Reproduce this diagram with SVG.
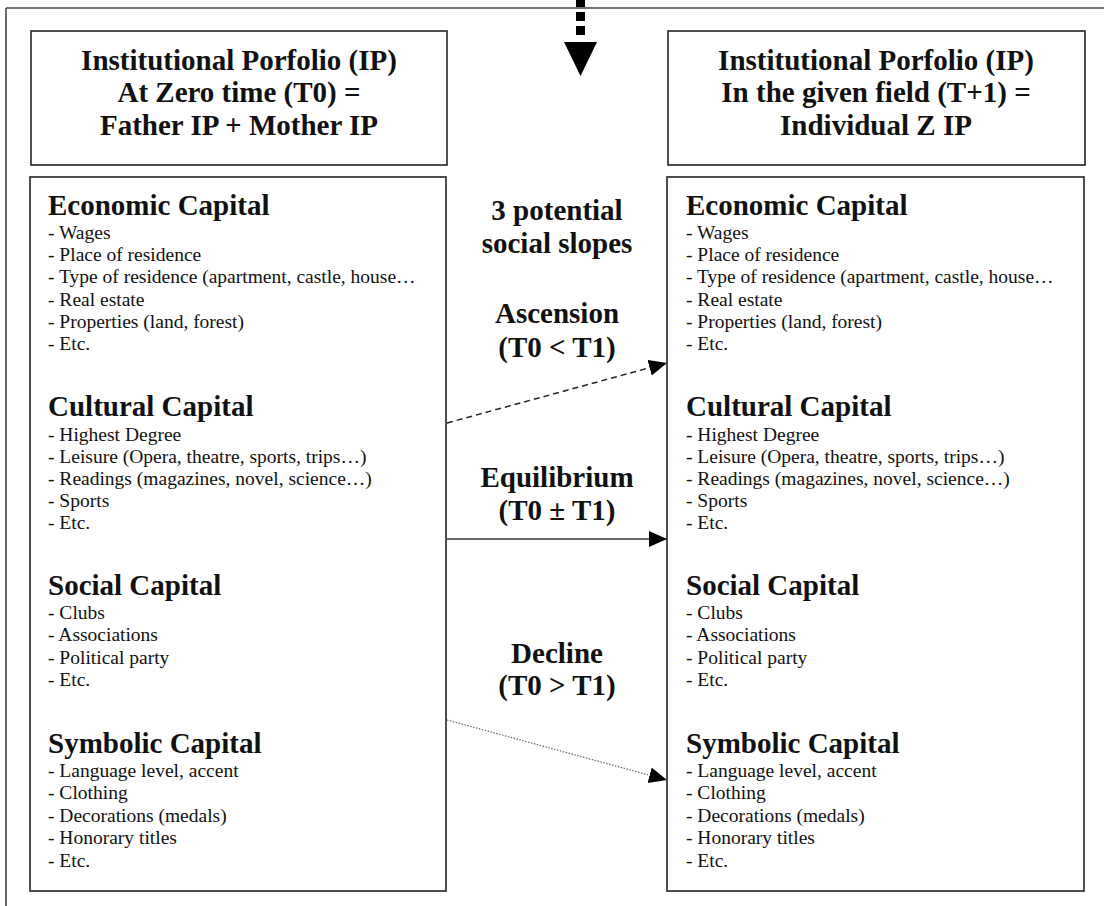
<svg xmlns="http://www.w3.org/2000/svg" width="1104" height="906" viewBox="0 0 1104 906">
<style>
.box{fill:#fff;stroke:#222;stroke-width:1.6}
.frame{fill:none;stroke:#444;stroke-width:1.6}
.hd{font-family:"Liberation Serif","Times New Roman",serif;font-weight:bold;font-size:29px;fill:#111}
.it{font-family:"Liberation Serif","Times New Roman",serif;font-size:19.5px;fill:#111}
.mid{font-family:"Liberation Serif","Times New Roman",serif;font-weight:bold;font-size:29px;fill:#111;text-anchor:middle}
.ttl{font-family:"Liberation Serif","Times New Roman",serif;font-weight:bold;font-size:29px;fill:#111;text-anchor:middle}
</style>
<defs>
<marker id="ah" markerUnits="userSpaceOnUse" markerWidth="20" markerHeight="18" refX="18" refY="8" orient="auto">
<path d="M0,0 L18,8 L0,16 z" fill="#000"/>
</marker>
</defs>
<rect width="1104" height="906" fill="#fff"/>
<g id="frame">
<path class="frame" d="M6,8 H1104 M6,8 V906"/>
</g>
<g id="connectors">
<path d="M580.5,-2 V40" stroke="#000" stroke-width="9" stroke-dasharray="9,5" fill="none"/>
<path d="M564,42 L597,42 L580.5,76 z" fill="#000"/>
<line x1="447" y1="423" x2="667" y2="363" stroke="#222" stroke-width="1.5" stroke-dasharray="6,4" marker-end="url(#ah)"/>
<line x1="447" y1="539" x2="667" y2="539" stroke="#333" stroke-width="1.6" marker-end="url(#ah)"/>
<line x1="447" y1="720" x2="667" y2="780" stroke="#666" stroke-width="1.2" stroke-dasharray="1.5,1.5" marker-end="url(#ah)"/>
</g>
<g id="header-left">
<rect class="box" x="31" y="31" width="416" height="134"/>
<text class="ttl" x="239" y="70">Institutional Porfolio (IP)</text>
<text class="ttl" x="239" y="102">At Zero time (T0) =</text>
<text class="ttl" x="239" y="135">Father IP + Mother IP</text>
</g>
<g id="header-right">
<rect class="box" x="668" y="31" width="417" height="134"/>
<text class="ttl" x="876" y="70">Institutional Porfolio (IP)</text>
<text class="ttl" x="876" y="102">In the given field (T+1) =</text>
<text class="ttl" x="876" y="135">Individual Z IP</text>
</g>
<g id="portfolio-left">
<rect class="box" x="30" y="177" width="416" height="714"/>
<text class="hd" x="48" y="215">Economic Capital</text>
<text class="it" x="48" y="239">- Wages</text>
<text class="it" x="48" y="261">- Place of residence</text>
<text class="it" x="48" y="283">- Type of residence (apartment, castle, house…</text>
<text class="it" x="48" y="306">- Real estate</text>
<text class="it" x="48" y="328">- Properties (land, forest)</text>
<text class="it" x="48" y="350">- Etc.</text>
<text class="hd" x="48" y="416">Cultural Capital</text>
<text class="it" x="48" y="441">- Highest Degree</text>
<text class="it" x="48" y="463">- Leisure (Opera, theatre, sports, trips…)</text>
<text class="it" x="48" y="485">- Readings (magazines, novel, science…)</text>
<text class="it" x="48" y="507">- Sports</text>
<text class="it" x="48" y="529">- Etc.</text>
<text class="hd" x="48" y="595">Social Capital</text>
<text class="it" x="48" y="619">- Clubs</text>
<text class="it" x="48" y="641">- Associations</text>
<text class="it" x="48" y="664">- Political party</text>
<text class="it" x="48" y="686">- Etc.</text>
<text class="hd" x="48" y="753">Symbolic Capital</text>
<text class="it" x="48" y="777">- Language level, accent</text>
<text class="it" x="48" y="799">- Clothing</text>
<text class="it" x="48" y="822">- Decorations (medals)</text>
<text class="it" x="48" y="844">- Honorary titles</text>
<text class="it" x="48" y="867">- Etc.</text>
</g>
<g id="portfolio-right">
<rect class="box" x="667" y="177" width="417" height="714"/>
<text class="hd" x="686" y="215">Economic Capital</text>
<text class="it" x="686" y="239">- Wages</text>
<text class="it" x="686" y="261">- Place of residence</text>
<text class="it" x="686" y="283">- Type of residence (apartment, castle, house…</text>
<text class="it" x="686" y="306">- Real estate</text>
<text class="it" x="686" y="328">- Properties (land, forest)</text>
<text class="it" x="686" y="350">- Etc.</text>
<text class="hd" x="686" y="416">Cultural Capital</text>
<text class="it" x="686" y="441">- Highest Degree</text>
<text class="it" x="686" y="463">- Leisure (Opera, theatre, sports, trips…)</text>
<text class="it" x="686" y="485">- Readings (magazines, novel, science…)</text>
<text class="it" x="686" y="507">- Sports</text>
<text class="it" x="686" y="529">- Etc.</text>
<text class="hd" x="686" y="595">Social Capital</text>
<text class="it" x="686" y="619">- Clubs</text>
<text class="it" x="686" y="641">- Associations</text>
<text class="it" x="686" y="664">- Political party</text>
<text class="it" x="686" y="686">- Etc.</text>
<text class="hd" x="686" y="753">Symbolic Capital</text>
<text class="it" x="686" y="777">- Language level, accent</text>
<text class="it" x="686" y="799">- Clothing</text>
<text class="it" x="686" y="822">- Decorations (medals)</text>
<text class="it" x="686" y="844">- Honorary titles</text>
<text class="it" x="686" y="867">- Etc.</text>
</g>
<g id="slopes-labels">
<text class="mid" x="557" y="220">3 potential</text>
<text class="mid" x="557" y="253">social slopes</text>
<text class="mid" x="557" y="323">Ascension</text>
<text class="mid" x="557" y="357">(T0 &lt; T1)</text>
<text class="mid" x="557" y="487">Equilibrium</text>
<text class="mid" x="557" y="520">(T0 ± T1)</text>
<text class="mid" x="557" y="663">Decline</text>
<text class="mid" x="557" y="695">(T0 &gt; T1)</text>
</g>
</svg>
